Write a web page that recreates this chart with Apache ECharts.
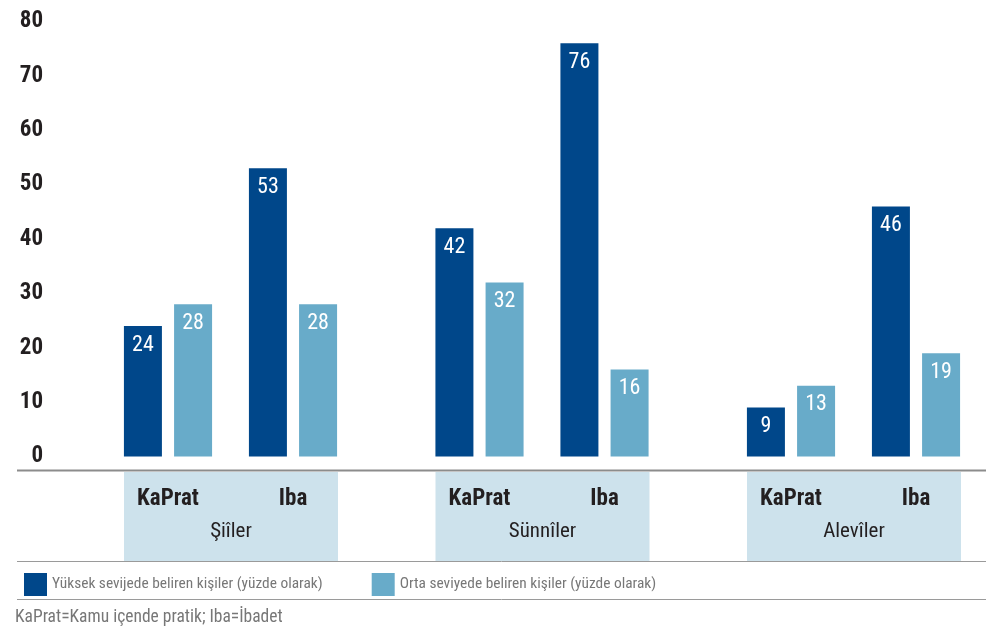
<!DOCTYPE html>
<html><head><meta charset="utf-8">
<script src="https://cdn.jsdelivr.net/npm/echarts@6/dist/echarts.min.js"></script>
<style>html,body{margin:0;padding:0;background:#fff}#c{width:986px;height:626px}</style>
</head><body><div id="c"></div>
<script>
const groups = ['Şiîler', 'Sünnîler', 'Alevîler'];
const subCats = ['KaPrat', 'Iba'];
const seriesNames = ['Yüksek sevijede beliren kişiler (yüzde olarak)', 'Orta seviyede beliren kişiler (yüzde olarak)'];
const highValues = [[24, 53], [42, 76], [9, 46]];
const midValues = [[28, 28], [32, 16], [13, 19]];
const yTicks = [0, 10, 20, 30, 40, 50, 60, 70, 80];
const footnote = 'KaPrat=Kamu içende pratik; Iba=İbadet';

const FONT = "'Liberation Sans Narrow', 'Roboto Condensed', sans-serif";
const DARK = '#00478a', LIGHT = '#68abc9', BOX = '#cde2ec', TXT = '#231f20';

const grids = [], xAxes = [], yAxes = [], series = [];
groups.forEach((g, i) => {
  const left = 105.5 + 311.5 * i;
  grids.push({ left: left, width: 250, top: 21.5, height: 435 });
  const pi = grids.length - 1;
  xAxes.push({
    type: 'category', gridIndex: pi, data: subCats,
    axisLine: { show: false }, axisTick: { show: false },
    axisLabel: { margin: 31, fontFamily: FONT, fontWeight: 'bold', fontSize: 23, color: TXT }
  });
  yAxes.push({
    type: 'value', gridIndex: pi, min: yTicks[0], max: yTicks[yTicks.length - 1], interval: 10,
    splitLine: { show: false }, axisLine: { show: false }, axisTick: { show: false },
    axisLabel: { show: i === 0, margin: 62.5, fontFamily: FONT, fontWeight: 'bold', fontSize: 23, color: TXT }
  });
  const lbl = { show: true, position: 'insideTop', distance: 8, color: '#fff', fontFamily: FONT, fontSize: 22 };
  series.push({ name: seriesNames[0], type: 'bar', xAxisIndex: pi, yAxisIndex: pi, data: highValues[i],
    barWidth: 38, barGap: '32%', itemStyle: { color: DARK }, label: lbl, animation: false });
  series.push({ name: seriesNames[1], type: 'bar', xAxisIndex: pi, yAxisIndex: pi, data: midValues[i],
    barWidth: 38, barGap: '32%', itemStyle: { color: LIGHT }, label: lbl, animation: false });
  grids.push({ left: 124 + 311.5 * i, width: 214, top: 472, height: 89, show: true, backgroundColor: BOX, borderWidth: 0 });
  const bi = grids.length - 1;
  xAxes.push({
    type: 'category', gridIndex: bi, data: [g], position: 'top',
    axisLine: { show: false }, axisTick: { show: false },
    axisLabel: { inside: true, margin: 49, fontFamily: FONT, fontSize: 21, color: TXT }
  });
  yAxes.push({ type: 'value', gridIndex: bi, show: false, min: 0, max: 1 });
});

const line = (y, w, c) => ({ type: 'line', shape: { x1: 17, y1: y, x2: 986, y2: y }, style: { stroke: c, lineWidth: w }, z: 10 });

const chart = echarts.init(document.getElementById('c'));
chart.setOption({
  animation: false,
  grid: grids, xAxis: xAxes, yAxis: yAxes, series: series,
  legend: {
    left: 19, top: 568, itemWidth: 23, itemHeight: 23, itemGap: 49, icon: 'rect',
    data: seriesNames, selectedMode: false,
    textStyle: { fontFamily: FONT, fontSize: 15.4, color: '#777' }
  },
  graphic: [
    line(470.5, 2, '#8c8c8c'),
    line(561.5, 1, '#9a9a9a'),
    line(599.5, 1, '#9a9a9a'),
    { type: 'text', left: 15, top: 609, style: { text: footnote, fontFamily: FONT, fontSize: 17.5, fill: '#777' } }
  ]
});
</script></body></html>
